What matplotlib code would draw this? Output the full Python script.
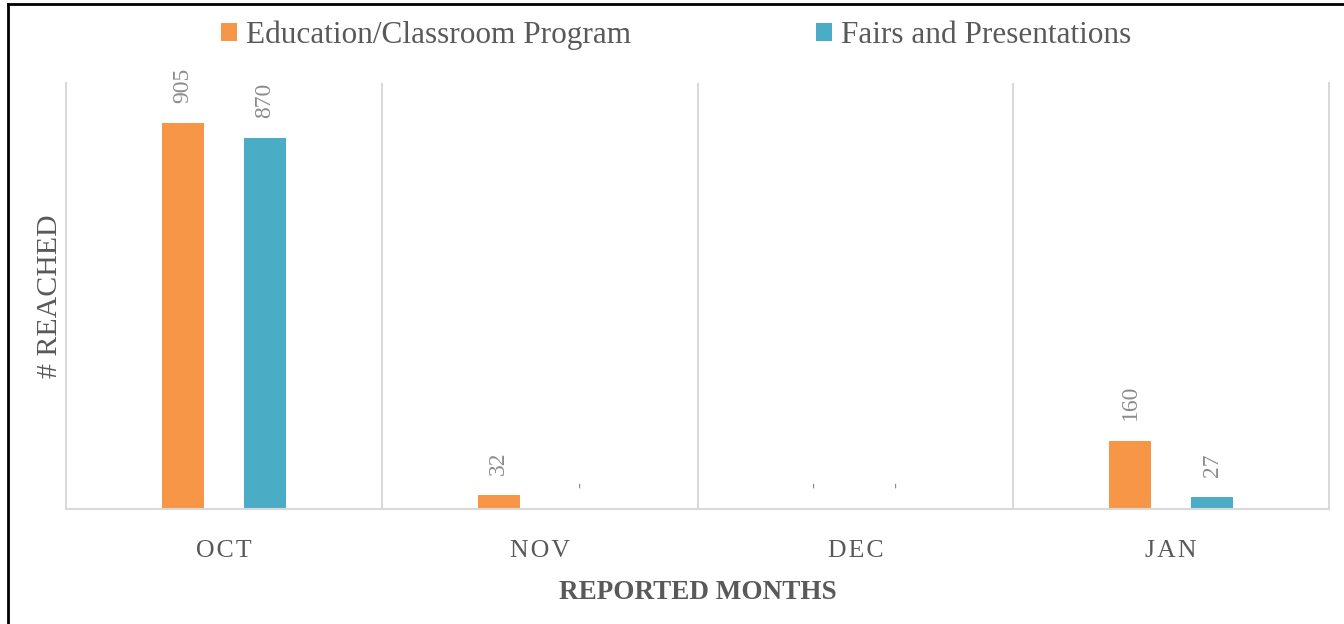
import matplotlib
matplotlib.use("Agg")
import matplotlib.pyplot as plt
from matplotlib.patches import Patch
from matplotlib.lines import Line2D
import numpy as np

months = ["OCT", "NOV", "DEC", "JAN"]
education = [905, 32, 0, 160]
fairs = [870, 0, 0, 27]
series_names = ["Education/Classroom Program", "Fairs and Presentations"]
colors = ["#F79646", "#4BACC6"]

plt.rcParams['font.family'] = ['Liberation Serif', 'DejaVu Serif']

fig = plt.figure(figsize=(13.44, 6.24), dpi=100)
ax = fig.add_axes([66/1344, 1-509/624, (1329-66)/1344, (509-83)/624])

x = np.arange(len(months))
w = 0.133
off = 0.13
label_color = "#8C8C8C"
text_color = "#595959"
grid_color = "#D9D9D9"

for vals, dx, c in [(education, -off, colors[0]), (fairs, off, colors[1])]:
    bars = ax.bar(x + dx, vals, width=w, color=c, zorder=2)
    for xi, v in zip(x + dx, vals):
        if v > 0:
            ax.annotate(f"{v}", (xi, v), xytext=(0, 15), textcoords="offset points",
                        rotation=90, ha="center", va="bottom", fontsize=17, color=label_color)
        else:
            ax.annotate("-", (xi, 0), xytext=(0, 15), textcoords="offset points",
                        rotation=90, ha="center", va="bottom", fontsize=13, color=label_color)

ax.set_xlim(-0.5, len(months) - 0.5)
ax.set_ylim(0, 1000)
for b in np.arange(0.5, len(months) - 0.5, 1):
    ax.axvline(b, color=grid_color, lw=1.5, zorder=1)
for s in ["left", "right", "bottom"]:
    ax.spines[s].set_color(grid_color)
    ax.spines[s].set_linewidth(1.5)
ax.spines["top"].set_visible(False)
ax.set_yticks([])
ax.set_xticks(x)
ax.set_xticklabels(["\u200a".join(m) for m in months], fontsize=18.5, color=text_color)
ax.tick_params(axis="x", length=0, pad=22)
ax.set_xlabel("REPORTED MONTHS", fontsize=19.5, fontweight="bold", color=text_color, labelpad=13)
ax.set_ylabel("# REACHED", fontsize=21.5, color=text_color, labelpad=2)

handles = [Patch(facecolor=c) for c in colors]
fig.legend(handles, series_names, loc="center", bbox_to_anchor=(0.503, 1-35/624), ncol=2,
           frameon=False, fontsize=22.5, labelcolor=text_color, handlelength=0.52, handleheight=0.52,
           handletextpad=0.3, columnspacing=5.9)

fig.add_artist(Line2D([8/1344, 1], [1-4/624, 1-4/624], color="black", lw=2, transform=fig.transFigure))
fig.add_artist(Line2D([8/1344, 8/1344], [0, 1-4/624], color="black", lw=2, transform=fig.transFigure))

fig.savefig("out.png", dpi=100)
